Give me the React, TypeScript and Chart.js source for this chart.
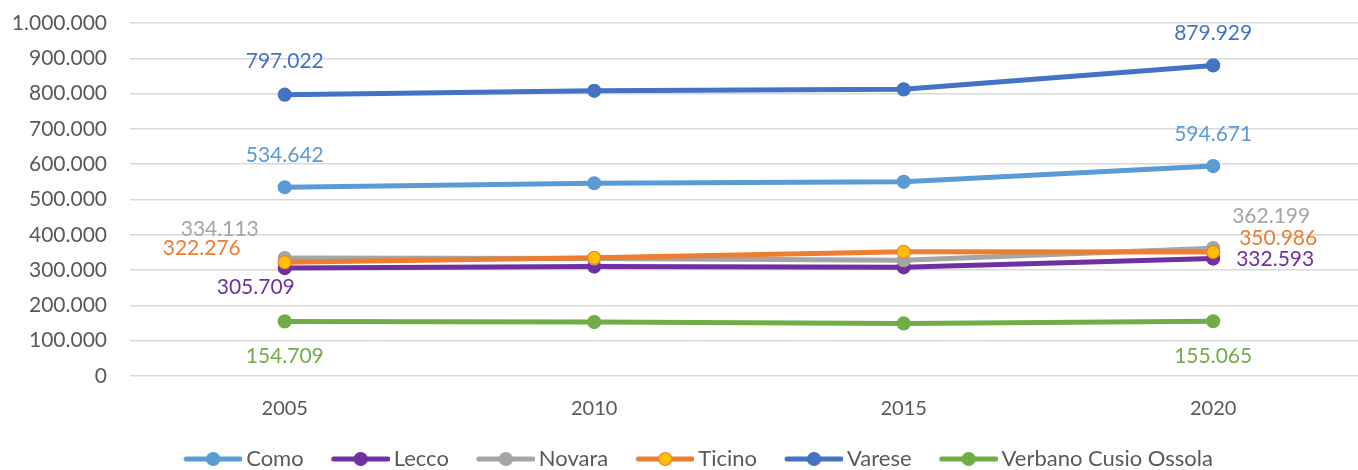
import React, { useEffect, useRef } from "react";
import { Chart, registerables } from "chart.js";

Chart.register(...registerables);

const years = [2005, 2010, 2015, 2020];
const seriesNames = ["Como", "Lecco", "Novara", "Ticino", "Varese", "Verbano Cusio Ossola"];
const como = [534642, 546000, 550000, 594671];
const lecco = [305709, 310000, 308000, 332593];
const novara = [334113, 333000, 328000, 362199];
const ticino = [322276, 335000, 352000, 350986];
const varese = [797022, 808000, 812000, 879929];
const verbano = [154709, 153000, 149000, 155065];
const yTicks = [0, 100000, 200000, 300000, 400000, 500000, 600000, 700000, 800000, 900000, 1000000];

const seriesValues = [como, lecco, novara, ticino, varese, verbano];
const lineColors = ["#5B9BD5", "#7030A0", "#A5A5A5", "#ED7D31", "#4472C4", "#70AD47"];
const pointFills = ["#5B9BD5", "#7030A0", "#A5A5A5", "#FFC000", "#4472C4", "#70AD47"];
// label offsets (first point, last point) in px, relative to the point
const labelOffsets: number[][][] = [
  [[0, -32], [0, -32]],
  [[-29, 19], [62, 1]],
  [[-65, -29], [58, -32]],
  [[-83, -14], [65, -14]],
  [[0, -33], [0, -32]],
  [[0, 35], [0, 35]],
];

const FONT = "Lato, 'Open Sans', sans-serif";
const LEGEND_BOX = 72;
const LEGEND_SHIFT = 9;

function fmt(n: number): string {
  return Math.round(n).toString().replace(/\B(?=(\d{3})+(?!\d))/g, ".");
}

// legend symbol: line with a marker, drawn in the right part of a wider transparent image
function legendImage(line: string, fill: string): HTMLCanvasElement {
  const c = document.createElement("canvas");
  const w = LEGEND_BOX + 14;
  c.width = w;
  c.height = 16;
  const ctx = c.getContext("2d")!;
  const x1 = w - 2;
  const x0 = x1 - 54;
  ctx.strokeStyle = line;
  ctx.lineWidth = 5;
  ctx.lineCap = "round";
  ctx.beginPath();
  ctx.moveTo(x0, 8);
  ctx.lineTo(x1, 8);
  ctx.stroke();
  ctx.beginPath();
  ctx.arc((x0 + x1) / 2, 8, 6.5, 0, Math.PI * 2);
  ctx.fillStyle = fill;
  ctx.fill();
  ctx.lineWidth = 1.2;
  ctx.strokeStyle = line;
  ctx.stroke();
  return c;
}

const dataLabelPlugin = {
  id: "endLabels",
  afterLayout(chart: any) {
    const lg = chart.legend;
    if (lg && LEGEND_SHIFT) {
      lg.left += LEGEND_SHIFT;
      lg.right += LEGEND_SHIFT;
    }
  },
  afterDatasetsDraw(chart: any) {
    const ctx = chart.ctx;
    ctx.save();
    ctx.font = `21px ${FONT}`;
    ctx.textAlign = "center";
    ctx.textBaseline = "middle";
    chart.data.datasets.forEach((ds: any, i: number) => {
      const meta = chart.getDatasetMeta(i);
      const pts = meta.data;
      const idxs = [0, pts.length - 1];
      idxs.forEach((pi, k) => {
        const p = pts[pi];
        const off = labelOffsets[i][k];
        ctx.fillStyle = lineColors[i];
        ctx.fillText(fmt(ds.data[pi].y), p.x + off[0], p.y + off[1]);
      });
    });
    ctx.restore();
  },
};

export default function App() {
  const ref = useRef<HTMLCanvasElement | null>(null);
  useEffect(() => {
    if (!ref.current) return;
    const images = seriesNames.map((_, i) => legendImage(lineColors[i], pointFills[i]));
    const chart = new Chart(ref.current, {
      type: "line",
      data: {
        datasets: seriesNames.map((name, i) => ({
          label: name,
          data: years.map((y, j) => ({ x: y, y: seriesValues[i][j] })),
          borderColor: lineColors[i],
          backgroundColor: pointFills[i],
          pointBackgroundColor: pointFills[i],
          pointBorderColor: lineColors[i],
          pointBorderWidth: 1.2,
          pointRadius: 6.5,
          borderWidth: 5,
          tension: 0,
          order: seriesNames.length - i,
        })),
      },
      options: {
        animation: false,
        responsive: false,
        layout: { autoPadding: false, padding: { top: 23, left: 0, right: 0, bottom: 0 } },
        scales: {
          x: {
            type: "linear",
            min: 2002.5,
            max: 2022.34,
            grid: { display: false },
            border: { display: false },
            afterBuildTicks: (s: any) => {
              s.ticks = years.map((v) => ({ value: v }));
            },
            afterFit: (s: any) => {
              s.height = 65;
              s.paddingLeft = 0;
              s.paddingRight = 0;
            },
            ticks: {
              padding: 13,
              color: "#595959",
              font: { family: FONT, size: 20 },
              callback: (v: any) => String(v),
            },
          },
          y: {
            min: 0,
            max: 1000000,
            afterBuildTicks: (s: any) => {
              s.ticks = yTicks.map((v) => ({ value: v }));
            },
            afterFit: (s: any) => {
              s.width = 130;
              s.paddingTop = 0;
              s.paddingBottom = 0;
            },
            grid: { color: "#D9D9D9", lineWidth: 1.5, drawTicks: false },
            border: { display: false },
            ticks: {
              padding: 23,
              color: "#595959",
              font: { family: FONT, size: 21 },
              callback: (v: any) => fmt(Number(v)),
            },
          },
        },
        plugins: {
          tooltip: { enabled: false },
          legend: {
            position: "bottom",
            maxHeight: 29,
            labels: {
              usePointStyle: true,
              pointStyleWidth: LEGEND_BOX,
              padding: 7,
              color: "#595959",
              font: { family: FONT, size: 22 },
              sort: (a: any, b: any) => a.datasetIndex - b.datasetIndex,
              generateLabels: (ch: any) => {
                const items = (Chart.defaults.plugins.legend.labels as any).generateLabels(ch);
                return items.map((it: any) => ({ ...it, pointStyle: images[it.datasetIndex] }));
              },
            },
          },
        },
      },
      plugins: [dataLabelPlugin],
    } as any);
    return () => chart.destroy();
  }, []);
  return (
    <div style={{ position: "fixed", left: 0, top: 0, width: 1358, height: 470, background: "#fff" }}>
      <canvas ref={ref} width={1358} height={470} style={{ display: "block" }} />
    </div>
  );
}
